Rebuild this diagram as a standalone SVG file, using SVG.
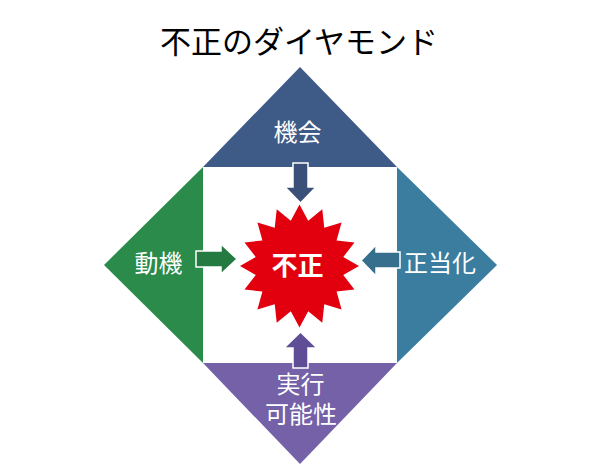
<svg xmlns="http://www.w3.org/2000/svg" width="600" height="472" viewBox="0 0 600 472">
<style>
.t{font-family:"Noto Sans CJK JP","Noto Sans",sans-serif;text-anchor:middle}
.lbl{font-size:24px;fill:#ffffff}
.arr{stroke:#ffffff;stroke-width:1.5;stroke-linejoin:miter}
</style>
<rect width="600" height="472" fill="#ffffff"/>
<text class="t" x="299" y="53" font-size="31" fill="#000000">不正のダイヤモンド</text>
<g id="opportunity">
<polygon points="300,67 397,167 203,167" fill="#3E5A87"/>
<text class="t lbl" x="297.5" y="141">機会</text>
</g>
<g id="motive">
<polygon points="203,167 104,265 203,363" fill="#2A8B4A"/>
<text class="t lbl" x="158.5" y="272">動機</text>
</g>
<g id="rationalization">
<polygon points="397,167 497,265 397,363" fill="#3A7D9E"/>
<text class="t lbl" x="440" y="272">正当化</text>
</g>
<g id="capability">
<polygon points="203,363 397,363 300,464" fill="#7461A8"/>
<text class="t lbl" x="300.5" y="393" font-size="23">実行</text>
<text class="t lbl" x="301" y="422.5" font-size="23.5">可能性</text>
</g>
<g id="fraud">
<polygon fill="#E2000F" points="299.5,204.5 308.2,220.79 322.27,209.18 324.28,227.67 341.57,222.51 336.58,240.39 354.47,242.47 343.24,257.01 359,266 343.24,274.99 354.47,289.53 336.58,291.61 341.57,309.49 324.28,304.33 322.27,322.82 308.2,311.21 299.5,327.5 290.8,311.21 276.73,322.82 274.72,304.33 257.43,309.49 262.42,291.61 244.53,289.53 255.76,274.99 240,266 255.76,257.01 244.53,242.47 262.42,240.39 257.43,222.51 274.72,227.67 276.73,209.18 290.8,220.79"/>
<text class="t" x="297.5" y="275" font-size="26" font-weight="bold" fill="#ffffff">不正</text>
</g>
<g id="connectors">
<polygon class="arr" fill="#3B5079" points="293,163 308,163 308,187 316,187 300.5,203 285,187 293,187"/>
<polygon class="arr" fill="#257A42" points="196,251 221,251 221,244 237,259 221,274 221,267 196,267"/>
<polygon class="arr" fill="#356F8D" points="400,252 376,252 376,245 361,260.5 376,276 376,268 400,268"/>
<polygon class="arr" fill="#5F4E95" points="293,368 308,368 308,348 317,348 300.5,332 284,348 293,348"/>
</g>
</svg>
